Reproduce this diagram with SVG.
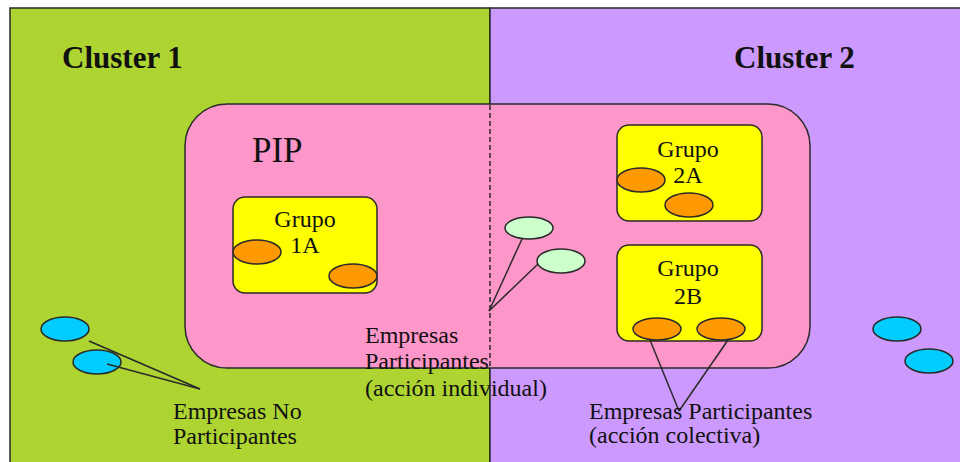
<svg xmlns="http://www.w3.org/2000/svg" width="960" height="462" viewBox="0 0 960 462">
<style>
.edge{stroke:#2a2a2a;stroke-width:1.5;fill:none}
.bd{stroke:#2a2a2a;stroke-width:1.5}
.t{font-family:"Liberation Serif","Times New Roman",serif;fill:#111}
.big{font-size:31px;font-weight:bold}
.mid{font-size:24px}
.sm{font-size:24px}
.org{fill:#FF9900}
.cy{fill:#00CCFF}
.lg{fill:#CCFFCC}
.grp{fill:#FFFF00}
</style>
<rect x="0" y="0" width="960" height="462" fill="#ffffff"/>
<g id="cluster1">
<rect x="10" y="8" width="480" height="470" fill="#AED432" class="bd"/>
<text class="t big" x="62" y="68">Cluster 1</text>
</g>
<g id="cluster2">
<rect x="490" y="8" width="480" height="470" fill="#CC99FF" class="bd"/>
<text class="t big" x="734" y="68">Cluster 2</text>
</g>
<g id="pip">
<rect x="185" y="104" width="625" height="264" rx="42" ry="42" fill="#FD96C9" class="bd"/>
<line x1="490" y1="105" x2="490" y2="367" stroke="#2a2a2a" stroke-width="1.5" stroke-dasharray="5 3"/>
<text class="t" x="252" y="162" font-size="35">PIP</text>
</g>
<g id="grupo1A">
<rect x="233" y="197" width="144" height="96" rx="12" class="grp bd"/>
<text class="t mid" x="305" y="227" text-anchor="middle">Grupo</text>
<text class="t mid" x="305" y="253" text-anchor="middle">1A</text>
<ellipse cx="257" cy="252" rx="24" ry="12" class="org bd"/>
<ellipse cx="353" cy="276" rx="24" ry="12" class="org bd"/>
</g>
<g id="grupo2A">
<rect x="617" y="125" width="145" height="96" rx="12" class="grp bd"/>
<text class="t mid" x="688" y="157" text-anchor="middle">Grupo</text>
<text class="t mid" x="688" y="183" text-anchor="middle">2A</text>
<ellipse cx="641" cy="180" rx="24" ry="12" class="org bd"/>
<ellipse cx="689" cy="205" rx="24" ry="12" class="org bd"/>
</g>
<g id="grupo2B">
<rect x="617" y="245" width="145" height="96" rx="12" class="grp bd"/>
<text class="t mid" x="688" y="276" text-anchor="middle">Grupo</text>
<text class="t mid" x="688" y="304" text-anchor="middle">2B</text>
<ellipse cx="657" cy="329" rx="24" ry="11" class="org bd"/>
<ellipse cx="721" cy="329" rx="24" ry="11" class="org bd"/>
</g>
<g id="individuales">
<ellipse cx="529" cy="228" rx="24" ry="11" class="lg bd"/>
<ellipse cx="561" cy="261" rx="24" ry="12" class="lg bd"/>
</g>
<g id="noParticipantes1">
<ellipse cx="65" cy="329" rx="24" ry="12" class="cy bd"/>
<ellipse cx="97" cy="362" rx="24" ry="12" class="cy bd"/>
</g>
<g id="noParticipantes2">
<ellipse cx="897" cy="329" rx="24" ry="12" class="cy bd"/>
<ellipse cx="929" cy="361" rx="24" ry="12" class="cy bd"/>
</g>
<g id="connectors">
<line class="edge" x1="89" y1="341" x2="200" y2="389"/>
<line class="edge" x1="107" y1="364" x2="200" y2="389"/>
<line class="edge" x1="522" y1="239" x2="489" y2="311"/>
<line class="edge" x1="538" y1="264" x2="489" y2="311"/>
<line class="edge" x1="650" y1="340" x2="679" y2="411"/>
<line class="edge" x1="728" y1="340" x2="679" y2="411"/>
</g>
<g id="labels">
<text class="t sm" x="173" y="419">Empresas No</text>
<text class="t sm" x="173" y="444">Participantes</text>
<text class="t sm" x="365" y="343">Empresas</text>
<text class="t sm" x="365" y="369">Participantes</text>
<text class="t sm" x="365" y="396">(acción individual)</text>
<text class="t sm" x="589" y="419">Empresas Participantes</text>
<text class="t sm" x="589" y="443">(acción colectiva)</text>
</g>
</svg>
